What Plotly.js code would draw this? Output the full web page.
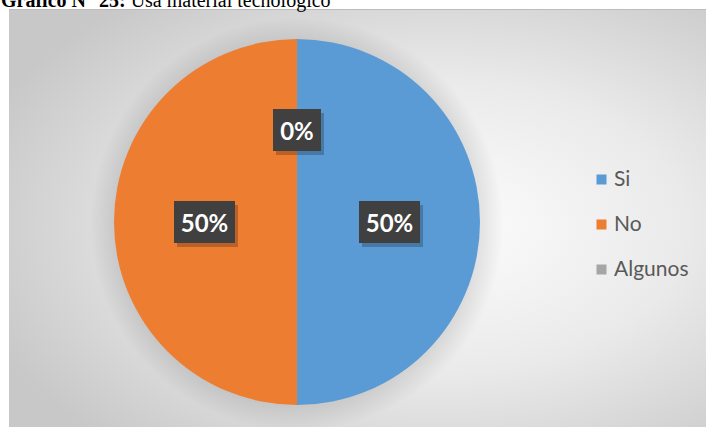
<!DOCTYPE html>
<html>
<head>
<meta charset="utf-8">
<script src="https://cdn.plot.ly/plotly-3.0.1.min.js"></script>
<style>
  html, body { margin: 0; padding: 0; background: #ffffff; }
  #chart { width: 706px; height: 427px; }
</style>
</head>
<body>
<div id="chart"></div>
<script>
// ---- data ----
const labels = ["Si", "No", "Algunos"];
const values = [50, 50, 0];
const colors = ["#5B9BD5", "#ED7D31", "#A5A5A5"];
const titleBold = "Gráfico N° 25:";
const titleRest = " Usa material tecnológico";

// ---- geometry (pixels) ----
const W = 706, H = 427;
const pieCx = 297, pieCy = 222, pieR = 183;
const boxL = 9, boxT = 10;

const dx = [(pieCx - pieR) / W, (pieCx + pieR) / W];
const dy = [1 - (pieCy + pieR) / H, 1 - (pieCy - pieR) / H];
const cxP = (dx[0] + dx[1]) / 2, cyP = (dy[0] + dy[1]) / 2;

const bgSvg = '<svg xmlns="http://www.w3.org/2000/svg" width="697" height="417" viewBox="0 0 697 417">' +
  '<defs><radialGradient id="g" cx="0.62" cy="0.52" r="0.7">' +
  '<stop offset="0" stop-color="#fdfdfd"/>' +
  '<stop offset="0.5" stop-color="#eaeaea"/>' +
  '<stop offset="1" stop-color="#c8c8c8"/>' +
  '</radialGradient>' +
  '<radialGradient id="s" cx="0.5" cy="0.5" r="0.5">' +
  '<stop offset="0.88" stop-color="#000" stop-opacity="0.10"/>' +
  '<stop offset="1" stop-color="#000" stop-opacity="0"/>' +
  '</radialGradient></defs>' +
  '<rect width="697" height="417" fill="url(#g)"/>' +
  '<circle cx="' + (pieCx - boxL) + '" cy="' + (pieCy - boxT + 2) + '" r="' + (pieR + 24) + '" fill="url(#s)"/>' +
  '</svg>';
const bgUri = 'data:image/svg+xml;base64,' + btoa(bgSvg);

const total = values.reduce((a, b) => a + b, 0);
const annotations = [];

// title
annotations.push({
  xref: 'paper', yref: 'paper', x: 0, y: 1 - 13 / H,
  xanchor: 'left', yanchor: 'bottom', showarrow: false, borderpad: 0,
  text: '<b>' + titleBold + '</b>' + titleRest,
  font: { family: 'Liberation Serif, Times New Roman, serif', size: 20, color: '#000000' }
});

// data labels (shadow first, then box)
let cum = 0;
const shadows = [], boxes = [];
values.forEach((v, i) => {
  const mid = (cum + v / 2) / total * 2 * Math.PI; // clockwise from top
  cum += v;
  const xs = 0.505 * pieR * Math.sin(mid);
  const ys = 0.505 * pieR * Math.cos(mid);
  const txt = Math.round(v / total * 100) + '%';
  const w = txt.length > 2 ? 55 : 42;
  const base = {
    xref: 'paper', yref: 'paper', x: cxP, y: cyP, xanchor: 'center', yanchor: 'middle',
    showarrow: false, width: w, height: 36, borderpad: 3, borderwidth: 0,
    font: { family: 'Lato, Open Sans, sans-serif', size: 24, color: '#ffffff', weight: 'bold' }
  };
  shadows.push(Object.assign({}, base, { text: ' ', bgcolor: 'rgba(0,0,0,0.22)', xshift: xs + 3, yshift: ys - 4 }));
  boxes.push(Object.assign({}, base, { text: '<b>' + txt + '</b>', bgcolor: '#404040', xshift: xs, yshift: ys }));
});
annotations.push(...shadows, ...boxes);

// legend (built from labels & colors)
const legX = 596, legY0 = 179, legStep = 45;
labels.forEach((lab, i) => {
  const yP = 1 - (legY0 + i * legStep) / H;
  annotations.push({
    xref: 'paper', yref: 'paper', x: legX / W, y: yP, xanchor: 'left', yanchor: 'middle',
    showarrow: false, text: ' ', width: 9, height: 9, borderpad: 0, bgcolor: colors[i],
    font: { size: 6 }
  });
  annotations.push({
    xref: 'paper', yref: 'paper', x: 613 / W, y: yP, xanchor: 'left', yanchor: 'middle',
    yshift: 2, showarrow: false, text: lab, borderpad: 0,
    font: { family: 'Lato, Open Sans, sans-serif', size: 21, color: '#595959' }
  });
});

const trace = {
  type: 'pie',
  labels: labels,
  values: values,
  sort: false,
  direction: 'clockwise',
  rotation: 0,
  marker: { colors: colors, line: { width: 0 } },
  textinfo: 'none',
  hoverinfo: 'label+percent',
  domain: { x: dx, y: dy },
  showlegend: false
};

const layout = {
  width: W, height: H,
  margin: { l: 0, r: 0, t: 0, b: 0 },
  paper_bgcolor: '#ffffff',
  showlegend: false,
  images: [{
    source: bgUri, xref: 'paper', yref: 'paper',
    x: boxL / W, y: 1 - boxT / H, sizex: (W - boxL) / W, sizey: (H - boxT) / H,
    xanchor: 'left', yanchor: 'top', sizing: 'stretch', layer: 'below'
  }],
  shapes: [{
    type: 'line', xref: 'paper', yref: 'paper',
    x0: boxL / W, x1: 1, y0: 1 - (boxT - 0.5) / H, y1: 1 - (boxT - 0.5) / H,
    line: { color: '#bcbcbc', width: 1 }
  }],
  annotations: annotations
};

Plotly.newPlot('chart', [trace], layout, { displayModeBar: false, staticPlot: true });
</script>
</body>
</html>
